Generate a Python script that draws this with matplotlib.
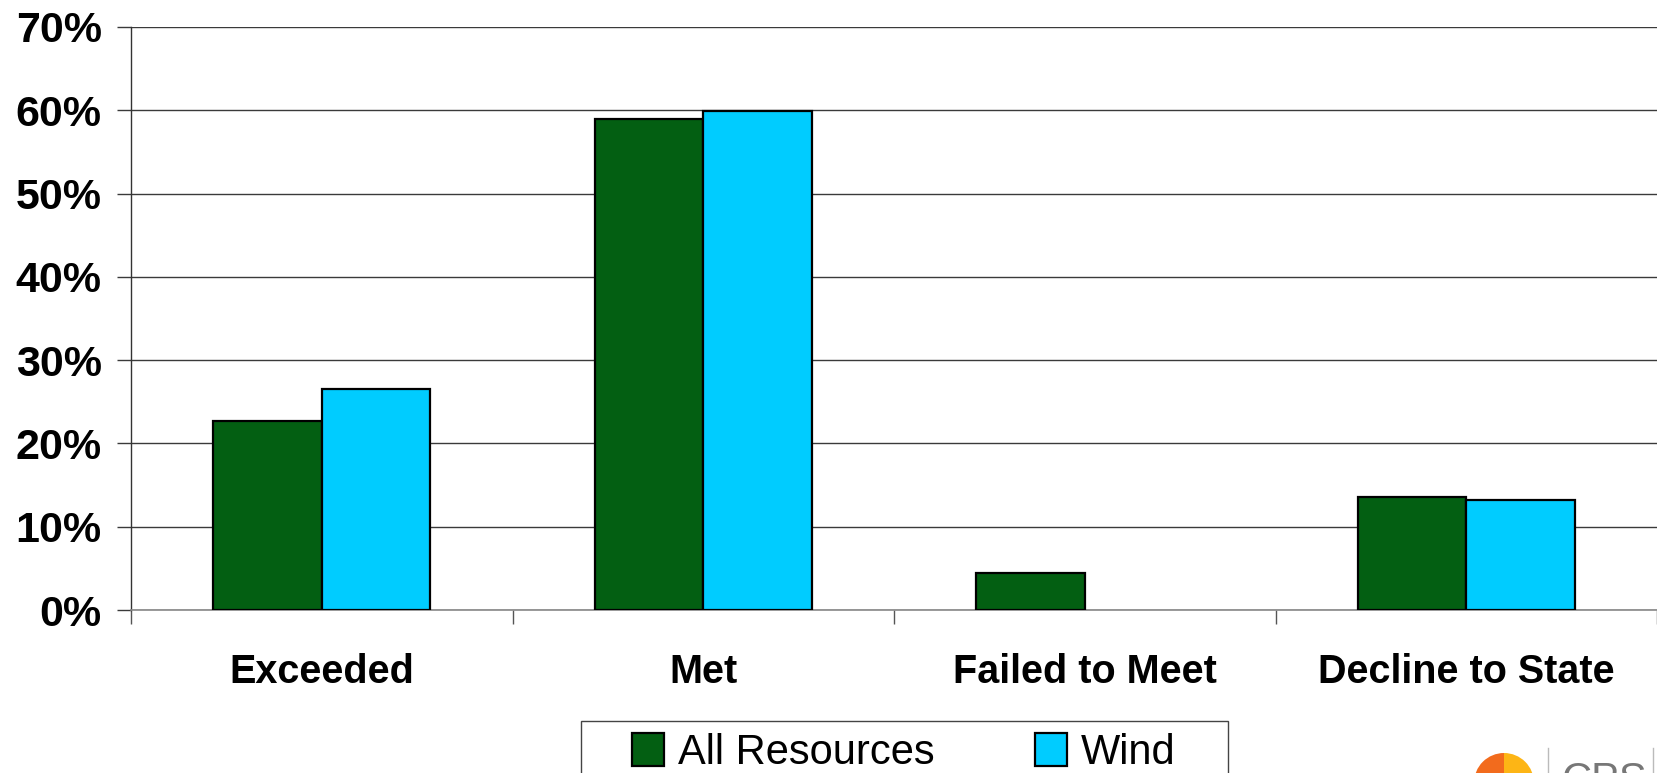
import matplotlib
matplotlib.use("Agg")
import matplotlib.pyplot as plt
import numpy as np
from matplotlib.patches import Rectangle, Wedge
from matplotlib.ticker import FuncFormatter, MultipleLocator

categories = ["Exceeded", "Met", "Failed to Meet", "Decline to State"]
series_names = ["All Resources", "Wind"]
all_resources = [0.227, 0.590, 0.044, 0.136]
wind = [0.265, 0.599, 0.0, 0.132]
colors = ["#035F12", "#00CCFF"]

plt.rcParams["font.family"] = ["Liberation Sans", "DejaVu Sans"]

W, H = 1658, 773
fig = plt.figure(figsize=(W / 100, H / 100), dpi=100)
ax = fig.add_axes([131 / W, 1 - 610 / H, (1657 - 131) / W, (610 - 27) / H])

x = np.arange(len(categories))
w = 0.285
bars1 = ax.bar(x - w / 2, all_resources, w, color=colors[0], edgecolor="black",
               linewidth=1.6, label=series_names[0], zorder=3)
bars2 = ax.bar(x + w / 2, wind, w, color=colors[1], edgecolor="black",
               linewidth=1.6, label=series_names[1], zorder=3)
# no visible bar for zero values
for b, v in zip(bars2, wind):
    if v == 0:
        b.set_visible(False)

ax.set_xlim(-0.5, len(categories) - 0.5)
ax.set_ylim(0, 0.70)
ax.yaxis.set_major_locator(MultipleLocator(0.10))
ax.yaxis.set_major_formatter(FuncFormatter(lambda v, p: f"{v*100:.0f}%"))
ax.grid(axis="y", color="#3a3a3a", linewidth=1.0, zorder=0)
ax.set_axisbelow(True)

ax.set_xticks(x)
ax.set_xticklabels(categories, fontsize=28.5, fontweight="bold")
ax.tick_params(axis="x", which="major", length=0, pad=31)
ax.set_xticks(np.arange(-0.5, len(categories), 1.0), minor=True)
ax.tick_params(axis="x", which="minor", length=10, width=1.0, color="#555555", direction="out")
ax.tick_params(axis="y", length=10, width=1.0, color="#3a3a3a", direction="out",
               labelsize=31, pad=11)
for lbl in ax.get_yticklabels():
    lbl.set_fontweight("bold")

for s in ["top", "right"]:
    ax.spines[s].set_visible(False)
ax.spines["left"].set_color("#333333")
ax.spines["bottom"].set_color("#888888")
ax.spines["left"].set_linewidth(1.0)
ax.spines["bottom"].set_linewidth(1.2)

# legend frame (its bottom edge runs past the figure) and entries
fig.patches.append(Rectangle((581 / W, -0.05), (1228 - 581) / W, 0.05 + (H - 721) / H,
                             transform=fig.transFigure, facecolor="white",
                             edgecolor="#444444", linewidth=1.0))
fs_leg = 30
em = fs_leg * 100 / 72
leg = fig.legend(handles=[bars1, bars2], labels=series_names, loc="upper left",
                 bbox_to_anchor=(632 / W, 1 - 733 / H), ncol=2, frameon=False,
                 borderpad=0, borderaxespad=0, handlelength=32 / em, handleheight=34 / em,
                 handletextpad=14 / em, columnspacing=100 / em,
                 prop={"family": ["Liberation Sans", "DejaVu Sans"], "size": fs_leg})

# corner logo, partly cut off by the figure edge
px = fig.dpi_scale_trans
cx, cy, r = 15.04, (H - 783) / 100, 0.30
fig.patches.append(Wedge((cx, cy), r, 90, 270, width=0.2, transform=px,
                         facecolor="#F26B1D", edgecolor="none"))
fig.patches.append(Wedge((cx, cy), r, -90, 90, width=0.2, transform=px,
                         facecolor="#FDB515", edgecolor="none"))
fig.add_artist(plt.Line2D([1548 / W, 1548 / W], [0, 1 - 748 / H],
                          transform=fig.transFigure, color="#bbbbbb", linewidth=1.0))
fig.add_artist(plt.Line2D([1653 / W, 1653 / W], [0, 1 - 748 / H],
                          transform=fig.transFigure, color="#bbbbbb", linewidth=1.0))
fig.text(1562 / W, 1 - 792 / H, "CPS", fontsize=30, color="#777777",
         va="baseline", ha="left")

fig.savefig("out.png", dpi=100)
